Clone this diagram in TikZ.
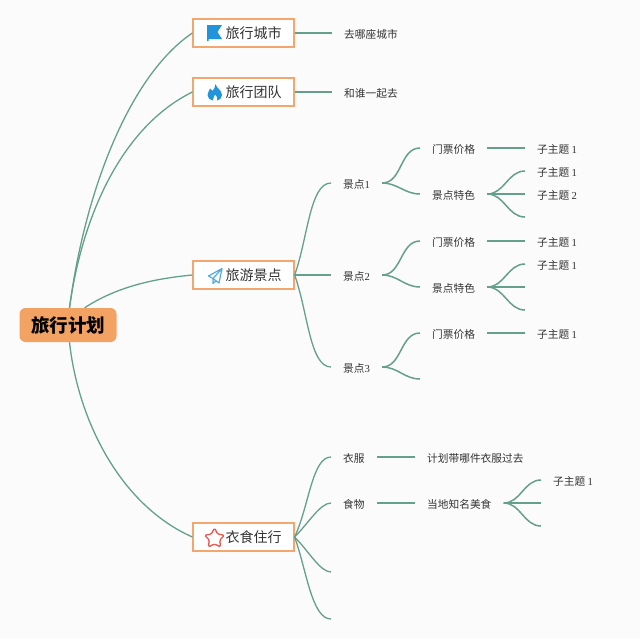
\documentclass[tikz,border=0pt]{standalone}
\usepackage{fontspec}
\setmainfont{Noto Sans CJK SC}
\newfontfamily\numfont{Liberation Serif}
\usetikzlibrary{shapes.geometric}
\definecolor{linegreen}{HTML}{64A08C}
\definecolor{boxorange}{HTML}{F3A76E}
\definecolor{rootorange}{HTML}{F2A263}
\definecolor{iconblue}{HTML}{2195DC}
\definecolor{planeblue}{HTML}{55A9E2}
\definecolor{starred}{HTML}{E8584C}
\definecolor{inkgrey}{HTML}{333333}
\definecolor{pagegrey}{HTML}{FBFBFC}
\newcommand{\subtopic}[1]{子主题 {\numfont #1}}
\tikzset{
    rootbox/.style={fill=rootorange, rounded corners=6pt, minimum width=97pt, minimum height=34pt,
        inner sep=0pt, font=\fontsize{18.5}{20}\selectfont\bfseries, text=black},
    mainbox/.style={draw=boxorange, fill=white, line width=1.2pt, minimum width=101pt, minimum height=28pt,
        inner sep=0pt, font=\fontsize{14}{16}\selectfont, text=inkgrey,
        execute at begin node={\hspace*{20pt}}},
    leaf/.style={anchor=west, inner xsep=12pt, inner ysep=0pt, text height=10pt, text depth=0pt,
        font=\fontsize{10.7}{12}\selectfont, text=inkgrey},
    trunk/.style={draw=linegreen, line width=1.3pt},
    branch/.style={draw=linegreen, line width=1.5pt, out=0, in=180},
    wide/.style={draw=linegreen, line width=1.3pt, out=#1, in=180, in looseness=.55}
}
\begin{document}
\begin{tikzpicture}[x=1pt, y=-1pt]
    \fill[pagegrey] (0,0) rectangle (640,638);
    \useasboundingbox (0,0) rectangle (640,638);
    % Root and main topics
    \node[rootbox] (root) at (68,325) {旅行计划};
    \node[mainbox] (city) at (243.5,33) {旅行城市};
    \node[mainbox] (team) at (243.5,92) {旅行团队};
    \node[mainbox] (spots) at (243.5,275) {旅游景点};
    \node[mainbox] (living) at (243.5,537) {衣食住行};
    % Trunks
    \draw[trunk] (root.85) .. controls (85,190) and (130,75) .. (city.west);
    \draw[trunk] (root.85) .. controls (83,210) and (125,125) .. (team.west);
    \draw[trunk] (root.46) .. controls (115,288) and (150,279) .. (spots.west);
    \draw[trunk] (root.-85) .. controls (78,420) and (120,505) .. (living.west);
    % Icons
    \fill[iconblue] (207,25) -- (222,25) -- (217.5,32) -- (222,39) -- (208.5,39) -- (208.5,41) -- (207,41) -- cycle;
    \fill[iconblue] (215.5,84) .. controls (216,88) and (222,90) .. (222,95)
        .. controls (222,98) and (219.5,100.5) .. (217,100.5) .. controls (218,98) and (217,96) .. (215,94.5)
        .. controls (214.5,96.5) and (212.5,98) .. (213,100.5) .. controls (210,100.5) and (207.5,98) .. (207.5,95)
        .. controls (207.5,92) and (209.5,91) .. (210,88.5) .. controls (211.5,89.5) and (212,90.5) .. (212.5,91)
        .. controls (214,89) and (215.5,87) .. (215.5,84) -- cycle;
    \draw[planeblue, line width=1.2pt, line join=round] (222,268.5) -- (208.5,276) -- (213,278.5) -- (222,268.5) -- (219,283) -- (213,278.5) -- (213,283.5) -- (216,281);
    \node[star, star points=5, star point ratio=1.95, draw=starred, line width=1.3pt, rounded corners=1.5pt,
        minimum size=21pt, inner sep=0pt] (staricon) at (214.5,538.5) {};
    % First two topics
    \node[leaf] (where) at (332,33) {去哪座城市};
    \node[leaf] (who) at (332,92) {和谁一起去};
    % Spots
    \foreach \name/\label/\y in {spotone/1/183, spottwo/2/275, spotthree/3/367}
        \node[leaf] (\name) at (331,\y) {景点{\numfont \label}};
    \node[leaf] (priceone) at (420,148) {门票价格};
    \node[leaf] (featone) at (420,194) {景点特色};
    \node[leaf] (pricetwo) at (420,241) {门票价格};
    \node[leaf] (feattwo) at (420,287) {景点特色};
    \node[leaf] (pricethree) at (420,333) {门票价格};
    \coordinate (stubthree) at (420,379);
    % Sub topics of the spots
    \node[leaf] (subone) at (525,148) {\subtopic{1}};
    \node[leaf] (subtwo) at (525,171) {\subtopic{1}};
    \node[leaf] (subthree) at (525,194) {\subtopic{2}};
    \coordinate (stubone) at (525,217);
    \node[leaf] (subfour) at (525,241) {\subtopic{1}};
    \node[leaf] (subfive) at (525,264) {\subtopic{1}};
    \coordinate (stubtwo) at (525,287);
    \coordinate (stubfour) at (525,310);
    \node[leaf] (subsix) at (525,333) {\subtopic{1}};
    % Living
    \node[leaf] (clothes) at (331,457) {衣服};
    \node[leaf] (food) at (331,503) {食物};
    \coordinate (stubfive) at (331,572);
    \coordinate (stubsix) at (331,619);
    \node[leaf] (pack) at (415,457) {计划带哪件衣服过去};
    \node[leaf] (local) at (415,503) {当地知名美食};
    \node[leaf] (subseven) at (541,480) {\subtopic{1}};
    \coordinate (stubseven) at (541,503);
    \coordinate (stubeight) at (541,526);
    % Branches
    \foreach \from/\to in {city/where, team/who,
        spotone/priceone, spotone/featone, spottwo/pricetwo, spottwo/feattwo, spotthree/pricethree,
        priceone/subone, featone/subtwo, featone/subthree, pricetwo/subfour, feattwo/subfive, pricethree/subsix,
        clothes/pack, food/local, local/subseven}
        \draw[branch] (\from.east) to (\to.west);
    \foreach \from/\to in {spotthree/stubthree, featone/stubone, feattwo/stubtwo, feattwo/stubfour,
        local/stubseven, local/stubeight}
        \draw[branch] (\from.east) to (\to);
    % Wide branches, they leave their box at a slant
    \draw[wide=70] (spots.east) to (spotone.west);
    \draw[branch] (spots.east) to (spottwo.west);
    \draw[wide=-70] (spots.east) to (spotthree.west);
    \draw[wide=65] (living.east) to (clothes.west);
    \draw[wide=45] (living.east) to (food.west);
    \draw[wide=-45] (living.east) to (stubfive);
    \draw[wide=-70] (living.east) to (stubsix);
\end{tikzpicture}
\end{document}
